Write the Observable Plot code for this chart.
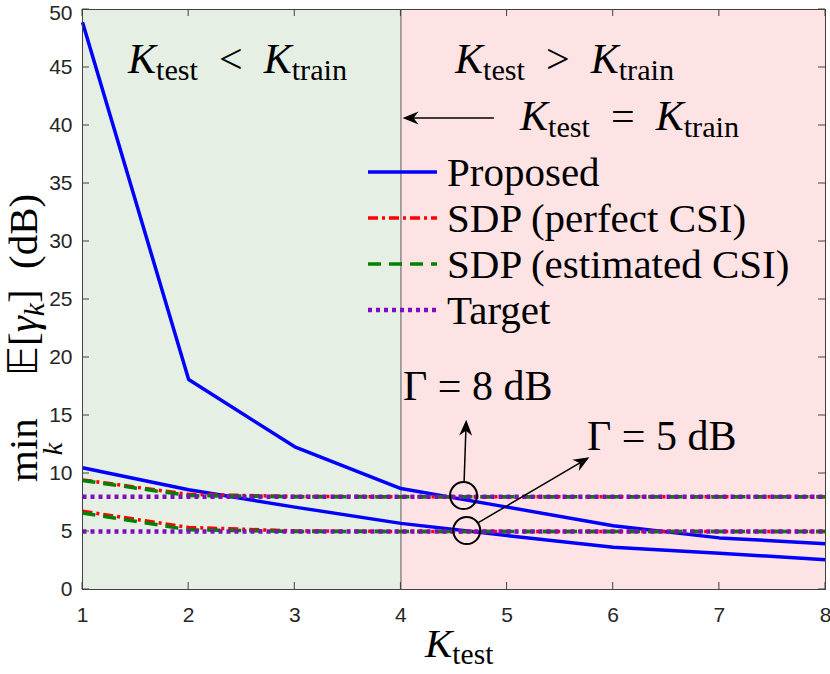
<!DOCTYPE html>
<html>
<head>
<meta charset="utf-8">
<script src="https://cdn.jsdelivr.net/npm/d3@7"></script>
<script src="https://cdn.jsdelivr.net/npm/@observablehq/plot@0.6"></script>
<style>
  html, body { margin: 0; padding: 0; background: #fff; }
  #chart svg { display: block; }
</style>
</head>
<body>
<div id="chart"></div>
<script>
// ---- data ----
const kTest = [1, 2, 3, 4, 5, 6, 7, 8];
const proposed8 = [48.9, 18.1, 12.3, 8.7, 7.1, 5.5, 4.45, 3.95];
const proposed5 = [10.5, 8.6, 7.1, 5.7, 4.65, 3.65, 3.13, 2.56];
const sdpPerfect8 = [9.45, 8.2, 8.02, 8.0, 8.0, 8.0, 8.0, 8.0];
const sdpPerfect5 = [6.75, 5.35, 5.05, 5.0, 5.0, 5.0, 5.0, 5.0];
const sdpEst8 = [9.4, 8.1, 8.0, 8.0, 8.0, 8.0, 8.0, 8.0];
const sdpEst5 = [6.6, 5.15, 5.0, 5.0, 5.0, 5.0, 5.0, 5.0];
const target8 = [8, 8, 8, 8, 8, 8, 8, 8];
const target5 = [5, 5, 5, 5, 5, 5, 5, 5];
const xTicks = [1, 2, 3, 4, 5, 6, 7, 8];
const yTicks = [0, 5, 10, 15, 20, 25, 30, 35, 40, 45, 50];
const regions = [
  {x1: 1, x2: 4, fill: "#e5efe4"},
  {x1: 4, x2: 8, fill: "#fee3e4"}
];
const kTrain = 4;
const circles = [{x: 4.59, y: 8.1}, {x: 4.62, y: 5.08}];
const arrows = [
  {x1: 4.6, y1: 9.3, x2: 4.62, y2: 14.6},
  {x1: 4.73, y1: 5.7, x2: 5.78, y2: 11.35},
  {x1: 4.88, y1: 40.6, x2: 4.02, y2: 40.6}
];
const legendItems = [
  {label: "Proposed", color: "#0000ff", dash: null, width: 3.5},
  {label: "SDP (perfect CSI)", color: "#ff0000", dash: "10,4,3,4", width: 3.5},
  {label: "SDP (estimated CSI)", color: "#008000", dash: "13,8", width: 3.5},
  {label: "Target", color: "#7e0fbf", dash: "4,4", width: 4.5}
];

const series = [];
function addSeries(name, ys, grp) { ys.forEach((y, i) => series.push({name, grp, x: kTest[i], y})); }
addSeries("Proposed", proposed8, "8"); addSeries("Proposed", proposed5, "5");
addSeries("SDP (perfect CSI)", sdpPerfect8, "8"); addSeries("SDP (perfect CSI)", sdpPerfect5, "5");
addSeries("SDP (estimated CSI)", sdpEst8, "8"); addSeries("SDP (estimated CSI)", sdpEst5, "5");
addSeries("Target", target8, "8"); addSeries("Target", target5, "5");

const lineMarks = legendItems.map(it => Plot.line(series.filter(d => d.name === it.label), {
  x: "x", y: "y", z: "grp", stroke: it.color, strokeWidth: it.width,
  strokeDasharray: it.dash, strokeLinejoin: "round", strokeLinecap: "butt"
}));

const plot = Plot.plot({
  width: 830, height: 674,
  marginLeft: 82, marginRight: 5, marginTop: 9, marginBottom: 85,
  style: {fontFamily: "Liberation Sans, Arial, sans-serif", background: "#fff", color: "#262626"},
  x: {domain: [1, 8]},
  y: {domain: [0, 50]},
  marks: [
    Plot.rect(regions, {x1: "x1", x2: "x2", y1: 0, y2: 50, fill: "fill"}),
    Plot.ruleX([kTrain], {stroke: "#8a8a8a", strokeWidth: 1.5}),
    ...lineMarks,
    Plot.dot(circles, {x: "x", y: "y", r: 13.5, stroke: "#000", strokeWidth: 2, fill: "none"}),
    Plot.axisX(xTicks, {anchor: "bottom", tickSize: 0, tickPadding: 18, label: null, fill: "#262626", fontSize: 21}),
    Plot.axisY(yTicks.filter(d => d < 50), {anchor: "left", tickSize: 0, tickPadding: 10, label: null, fill: "#262626", fontSize: 21}),
    Plot.text(yTicks.filter(d => d === 50), {x: 1, y: d => d, text: d => String(d), textAnchor: "end", dx: -10, dy: 3.5, fill: "#262626", fontSize: 21}),
    Plot.frame({stroke: "#404040", strokeWidth: 1})
  ]
});
document.getElementById("chart").appendChild(plot);

const sx = plot.scale("x").apply, sy = plot.scale("y").apply;
const svg = d3.select(plot);
svg.selectAll("[aria-label='x-axis tick label'] text, [aria-label='y-axis tick label'] text, [aria-label='text'] text")
  .style("font-size", "21px").style("font-family", "Liberation Sans, Arial, sans-serif");

// inward ticks on all four sides
const tk = svg.append("g").attr("aria-label", "ticks").attr("stroke", "#404040").attr("stroke-width", 1);
const [X0, X1] = [sx(1), sx(8)], [Y0, Y1] = [sy(0), sy(50)];
xTicks.forEach(v => {
  tk.append("line").attr("x1", sx(v)).attr("x2", sx(v)).attr("y1", Y0).attr("y2", Y0 - 7);
  tk.append("line").attr("x1", sx(v)).attr("x2", sx(v)).attr("y1", Y1).attr("y2", Y1 + 7);
});
yTicks.forEach(v => {
  tk.append("line").attr("y1", sy(v)).attr("y2", sy(v)).attr("x1", X0).attr("x2", X0 + 7);
  tk.append("line").attr("y1", sy(v)).attr("y2", sy(v)).attr("x1", X1).attr("x2", X1 - 7);
});

// arrows (shaft + filled head)
const ag = svg.append("g").attr("aria-label", "annotation arrows");
arrows.forEach(a => {
  const X1a = sx(a.x1), Y1a = sy(a.y1), X2a = sx(a.x2), Y2a = sy(a.y2);
  const ang = Math.atan2(Y2a - Y1a, X2a - X1a);
  const L = 16, W = 6.5, back = 5;
  const ux = Math.cos(ang), uy = Math.sin(ang), px = -uy, py = ux;
  const bx = X2a - ux * L, by = Y2a - uy * L;
  ag.append("line").attr("x1", X1a).attr("y1", Y1a).attr("x2", X2a - ux * 8).attr("y2", Y2a - uy * 8)
    .attr("stroke", "#000").attr("stroke-width", 1.5);
  ag.append("path").attr("d", `M${X2a},${Y2a}L${bx + px * W},${by + py * W}L${X2a - ux * (L - back)},${Y2a - uy * (L - back)}L${bx - px * W},${by - py * W}Z`)
    .attr("fill", "#000");
});

// math-like text helper
const SERIF = "Liberation Serif, Times New Roman, serif";
function mathText(parent, x, y, segs, size, anchor) {
  const t = parent.append("text").attr("x", x).attr("y", y)
    .attr("font-family", SERIF).attr("font-size", size).attr("fill", "#000")
    .attr("text-anchor", anchor || "start").style("white-space", "pre");
  let shift = 0;
  segs.forEach(([txt, st]) => {
    const sub = st && st.includes("s");
    const target = sub ? size * 0.16 : 0;
    const sp = t.append("tspan").text(txt)
      .attr("font-style", st && st.includes("i") ? "italic" : "normal")
      .attr("font-size", sub ? size * 0.72 : size);
    if (target !== shift) { sp.attr("dy", target - shift); shift = target; }
  });
  return t;
}
const tg = svg.append("g").attr("aria-label", "annotations");
mathText(tg, 128, 73, [["K", "i"], ["test", "s"], ["  <  "], ["K", "i"], ["train", "s"]], 42);
mathText(tg, 455, 73, [["K", "i"], ["test", "s"], ["  >  "], ["K", "i"], ["train", "s"]], 42);
mathText(tg, 520, 130, [["K", "i"], ["test", "s"], ["  =  "], ["K", "i"], ["train", "s"]], 42);
mathText(tg, 403, 400, [["Γ = 8 dB"]], 42);
mathText(tg, 587, 450, [["Γ = 5 dB"]], 42);

// legend
const lg = svg.append("g").attr("aria-label", "legend");
legendItems.forEach((it, i) => {
  const yy = 172 + i * 46;
  lg.append("line").attr("x1", 368).attr("x2", 437).attr("y1", yy).attr("y2", yy)
    .attr("stroke", it.color).attr("stroke-width", it.width).attr("stroke-dasharray", it.dash);
  lg.append("text").attr("x", 447).attr("y", yy + 14).attr("font-family", SERIF)
    .attr("text-anchor", "start").attr("font-size", 41).attr("fill", "#000").text(it.label);
});

// x label
mathText(svg, 425, 657, [["K", "i"], ["test", "s"]], 41);

// y label
const yl = svg.append("g").attr("transform", "translate(37,482) rotate(-90)");
mathText(yl, 0, 0, [["min"]], 41);
mathText(yl, 33, 25, [["k", "i"]], 28, "middle");
mathText(yl, 106, 0, [["𝔼"], ["["], ["γ", "i"], ["k", "si"], ["]"], ["  (dB)"]], 41);
</script>
</body>
</html>
